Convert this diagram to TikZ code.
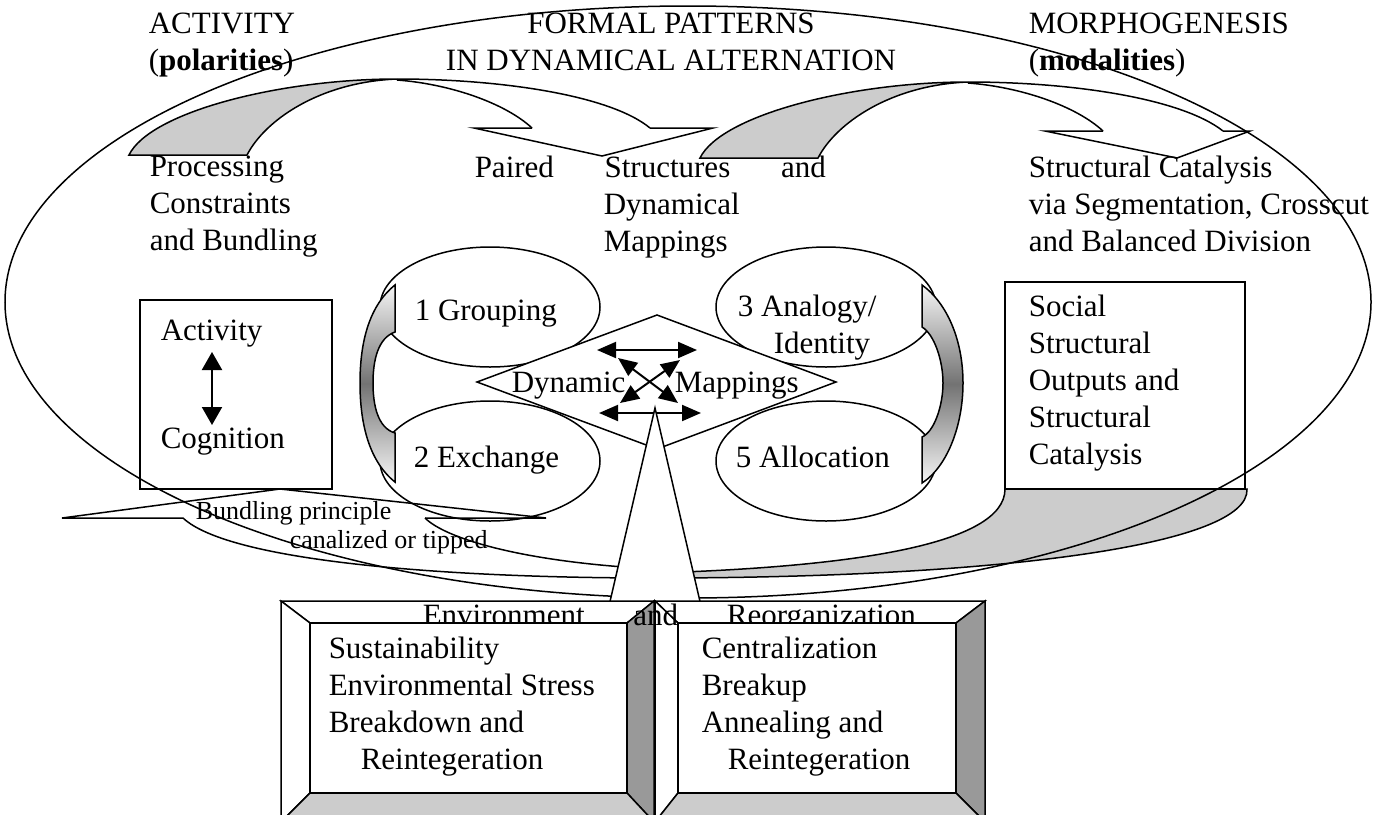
\documentclass[tikz,border=0pt]{standalone}
\usepackage{fontspec}
\setmainfont{Liberation Serif}
\usetikzlibrary{arrows.meta,shapes.geometric}
\definecolor{bandgray}{RGB}{204,204,204}
\definecolor{sidegray}{RGB}{153,153,153}
\tikzset{
  txt/.style={anchor=north west,inner sep=0pt,align=left,
    font=\fontsize{15.5}{18.5}\selectfont,execute at begin node=\strut},
  smalltxt/.style={txt,font=\fontsize{13}{14.5}\selectfont},
  oval/.style={draw,ellipse,minimum width=110pt,minimum height=60pt,inner sep=0pt},
  rim/.style={draw,top color=black!4,bottom color=black!4,middle color=black!55},
  dbl/.style={line width=1pt,{Triangle[length=9.5pt,width=8pt]}-{Triangle[length=9.5pt,width=8pt]}},
  vdbl/.style={line width=1pt,{Triangle[length=9pt,width=10pt]}-{Triangle[length=9pt,width=10pt]}},
}
\begin{document}
\begin{tikzpicture}[x=0.5pt,y=-0.5pt,line width=0.75pt]
\useasboundingbox (0,0) rectangle (1396,814);
% curved arrows at the top
\filldraw[fill=bandgray] (129,155) .. controls (150,112) and (280,79) .. (397,79)
  .. controls (320,82) and (265,120) .. (247,155) -- cycle;
\draw (397,79) .. controls (500,79) and (610,95) .. (650,128);
\draw (397,80) .. controls (450,84) and (505,103) .. (532,128);
\draw (532,128) -- (474,128) -- (602,156) -- (713,128) -- (650,128);
\filldraw[fill=bandgray] (700,158) .. controls (721,115) and (851,82) .. (968,82)
  .. controls (891,85) and (836,123) .. (818,158) -- cycle;
\draw (968,82) .. controls (1071,82) and (1181,98) .. (1223,131);
\draw (968,83) .. controls (1021,87) and (1076,106) .. (1103,131);
\draw (1103,131) -- (1045,131) -- (1177,158) -- (1250,131) -- (1223,131);
% the four ovals
\node[oval] (grp) at (490,307) {};
\node[oval] (ana) at (826,307) {};
\node[oval] (exc) at (490,461) {};
\node[oval] (all) at (826,461) {};
% shaded rims
\filldraw[rim] (395,285) .. controls (370,305) and (360,340) .. (360,383)
  .. controls (360,426) and (370,462) .. (395,482) -- (395,433)
  .. controls (378,428) and (373,406) .. (373,383)
  .. controls (373,360) and (378,338) .. (395,332) -- cycle;
\filldraw[rim] (922,285) .. controls (947,303) and (963,340) .. (963,383)
  .. controls (963,426) and (947,467) .. (922,483) -- (922,437)
  .. controls (934,432) and (943,406) .. (943,383)
  .. controls (943,360) and (934,334) .. (922,327) -- cycle;
% diamond with mappings
\coordinate (dt) at (657,315);
\coordinate (dr) at (836,382);
\coordinate (db) at (657,449);
\coordinate (dl) at (477,382);
\filldraw[fill=white] (dt) -- (dr) -- (db) -- (dl) -- cycle;
\coordinate (m1) at (597,350);
\coordinate (m2) at (697,350);
\coordinate (m3) at (599,413);
\coordinate (m4) at (701,413);
\coordinate (m5) at (618,358);
\coordinate (m6) at (678,403);
\coordinate (m7) at (680,360);
\coordinate (m8) at (620,403);
\draw[dbl] (m1) -- (m2);
\draw[dbl] (m3) -- (m4);
\draw[dbl] (m5) -- (m6);
\draw[dbl] (m7) -- (m8);
% side boxes
\draw (140,300) rectangle (332,489);
\coordinate (act) at (212,352);
\coordinate (cog) at (212,425);
\draw[vdbl] (act) -- (cog);
\draw (1005,282) rectangle (1245,489);
% lower bands
\filldraw[fill=bandgray] (1005,489) .. controls (1005,545) and (850,567) .. (655,573)
  -- (655,578) .. controls (1000,578) and (1250,545) .. (1247,489) -- cycle;
\coordinate (tip) at (280,489);
\draw (183,518) -- (62,518) -- (tip) -- (546,518) -- (425,518);
\draw (425,518) .. controls (445,538) and (520,562) .. (655,569);
\draw (183,518) .. controls (230,562) and (450,578) .. (655,578);
% big ellipse
\draw (688,302) ellipse [x radius=341.5pt, y radius=148pt];
% pointer
\filldraw[fill=white] (655,408) -- (705,623) -- (605,623) -- cycle;
% bevel boxes
\filldraw[fill=white] (281,601) -- (654,601) -- (627,623) -- (310,623) -- cycle;
\filldraw[fill=white] (281,601) -- (310,623) -- (310,793) -- (281,822) -- cycle;
\filldraw[fill=sidegray] (654,601) -- (654,822) -- (627,793) -- (627,623) -- cycle;
\filldraw[fill=bandgray] (310,793) -- (627,793) -- (654,822) -- (281,822) -- cycle;
\filldraw[fill=white] (655,601) -- (985,601) -- (956,623) -- (678,623) -- cycle;
\filldraw[fill=white] (655,601) -- (678,623) -- (678,793) -- (655,822) -- cycle;
\filldraw[fill=sidegray] (985,601) -- (985,822) -- (956,793) -- (956,623) -- cycle;
\filldraw[fill=bandgray] (678,793) -- (956,793) -- (985,822) -- (655,822) -- cycle;
\node[txt] (envre) at (422,599) {\hbox to 246.5pt{Environment\hskip 19.5pt plus 1fil and\hskip 19.5pt plus 1fil Reorganization}};
\filldraw[fill=white] (310,623) rectangle (627,793);
\filldraw[fill=white] (678,623) rectangle (956,793);
% texts
\node[txt] (hleft) at (148,12) {ACTIVITY\\(\textbf{polarities})};
\node[txt,anchor=north,align=center] (hmid) at (671,12) {FORMAL PATTERNS\\IN DYNAMICAL ALTERNATION};
\node[txt] (hright) at (1028,12) {MORPHOGENESIS\\(\textbf{modalities})};
\node[txt] (proc) at (149,155) {Processing\\Constraints\\and Bundling};
\node[txt] (paired) at (474,155) {\hbox to 175.5pt{Paired\hfill Structures\hfill and}\\
  \hspace*{64.5pt}Dynamical\\\hspace*{64.5pt}Mappings};
\node[txt] (catal) at (1028,155) {Structural Catalysis\\via Segmentation, Crosscut\\and Balanced Division};
\node[txt] (actxt) at (160,314) {Activity};
\node[txt] (cogtxt) at (160,422) {Cognition};
\node[txt] (social) at (1028,294) {Social\\Structural\\Outputs and\\Structural\\Catalysis};
\node[txt] (grptxt) at (414,294) {1 Grouping};
\node[txt] (anatxt) at (737,294) {3 Analogy/\\\hspace*{18pt}Identity};
\node[txt] (exctxt) at (413,441) {2 Exchange};
\node[txt] (alltxt) at (735,441) {5 Allocation};
\node[txt] (dyn) at (511,366) {Dynamic};
\node[txt] (map) at (674,366) {Mappings};
\node[smalltxt] (bundle) at (195,501) {Bundling principle\\\hspace*{47pt}canalized or tipped};
\node[txt] (sust) at (328,636) {Sustainability\\Environmental Stress\\Breakdown and\\\hspace*{16pt}Reintegeration};
\node[txt] (centr) at (701,636) {Centralization\\Breakup\\Annealing and\\\hspace*{13pt}Reintegeration};
\end{tikzpicture}
\end{document}
